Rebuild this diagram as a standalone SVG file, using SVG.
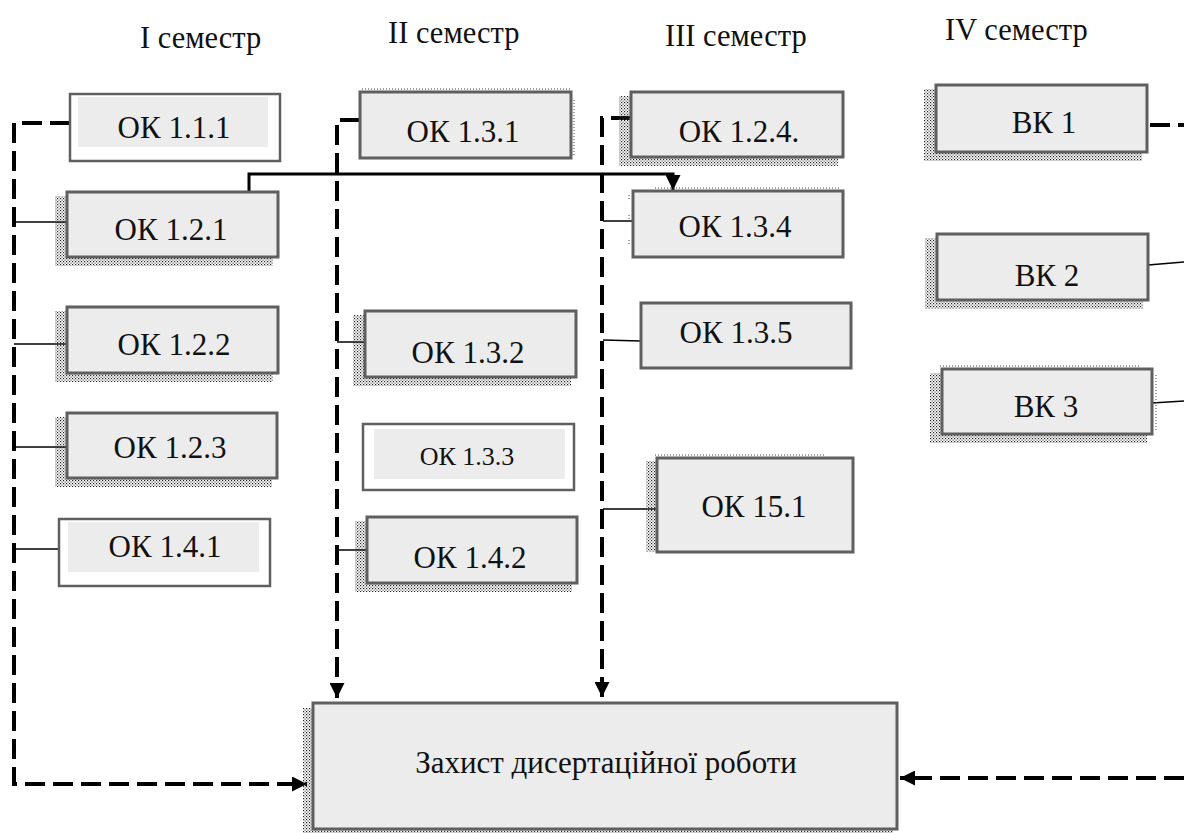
<svg xmlns="http://www.w3.org/2000/svg" width="1184" height="833" viewBox="0 0 1184 833">
<defs>
<pattern id="dots" width="3" height="3" patternUnits="userSpaceOnUse">
<rect x="0" y="0" width="1.2" height="1.2" fill="#222"/>
<rect x="1.5" y="1.5" width="1.2" height="1.2" fill="#555"/>
</pattern>
<marker id="arr" viewBox="0 0 14 14" refX="14" refY="7" markerWidth="15" markerHeight="15" markerUnits="userSpaceOnUse" orient="auto">
<path d="M0,0 L14,7 L0,14 z" fill="#000"/>
</marker>
</defs>
<style>
.box{fill:#ececec;stroke:#5f5f5f;stroke-width:3}
.wbox{fill:#fff;stroke:#5f5f5f;stroke-width:2.5}
.inner{fill:#ececec}
.sh{fill:url(#dots)}
.shl{fill:none;stroke:#444;stroke-width:1;stroke-dasharray:1 2}
.t{font-family:'Liberation Serif','Tinos','DejaVu Serif',serif;font-size:31px;fill:#111;text-anchor:middle}
.ts{font-size:26px}
.h{font-family:'Liberation Serif','Tinos','DejaVu Serif',serif;font-size:30.5px;fill:#111}
.dash{fill:none;stroke:#000;stroke-width:4;stroke-dasharray:20 8}
.thin{fill:none;stroke:#000;stroke-width:1.5}
.thick{fill:none;stroke:#000;stroke-width:3}
</style>

<g id="headers">
<text class="h" x="140" y="48">I семестр</text>
<text class="h" x="388" y="43">II семестр</text>
<text class="h" x="665" y="46">III семестр</text>
<text class="h" x="945" y="40">IV семестр</text>
</g>

<g id="connectors">
<path class="dash" d="M70,123 H14 V784 H307" marker-end="url(#arr)"/>
<path class="dash" d="M360,120 H337 V698" marker-end="url(#arr)"/>
<path class="dash" d="M631,118 H602 V697" marker-end="url(#arr)"/>
<path class="dash" d="M1150,125 H1184"/>
<path class="dash" d="M1184,778 H900" marker-end="url(#arr)"/>
<path class="thick" d="M249,192 V174 H673 V190" marker-end="url(#arr)"/>
<path class="thin" d="M14,222 H67"/>
<path class="thin" d="M14,344 H67"/>
<path class="thin" d="M16,447 H68"/>
<path class="thin" d="M14,549 H66"/>
<path class="thin" d="M337,342 H365"/>
<path class="thin" d="M337,550 H367"/>
<path class="thin" d="M603,221 H633"/>
<path class="thin" d="M603,340 L641,341"/>
<path class="thin" d="M603,509 H657"/>
<path class="thin" d="M1148,265 L1184,262"/>
<path class="thin" d="M1152,403 L1184,401"/>
</g>

<g id="ok111">
<rect class="wbox" x="70" y="94" width="210" height="67"/>
<rect class="inner" x="78" y="97" width="190" height="50"/>
<text class="t" x="174" y="138">ОК 1.1.1</text>
</g>
<g id="ok121">
<rect class="sh" x="55" y="196" width="218" height="70"/>
<rect class="box" x="67" y="192" width="211" height="65"/>
<text class="t" x="171" y="240">ОК 1.2.1</text>
</g>
<g id="ok122">
<rect class="sh" x="55" y="311" width="218" height="71"/>
<rect class="box" x="67" y="307" width="211" height="66"/>
<text class="t" x="174" y="355">ОК 1.2.2</text>
</g>
<g id="ok123">
<rect class="sh" x="55" y="417" width="217" height="70"/>
<rect class="box" x="67" y="413" width="210" height="65"/>
<text class="t" x="170" y="458">ОК 1.2.3</text>
</g>
<g id="ok141">
<rect class="wbox" x="59" y="519" width="211" height="67"/>
<rect class="inner" x="68" y="522" width="191" height="50"/>
<text class="t" x="165" y="557">ОК 1.4.1</text>
</g>

<g id="ok131">
<path class="shl" d="M362,89 H570 M574,100 V156"/>
<rect class="box" x="360" y="92" width="211" height="66"/>
<text class="t" x="463" y="142">ОК 1.3.1</text>
</g>
<g id="ok132">
<rect class="sh" x="353" y="315" width="218" height="71"/>
<rect class="box" x="365" y="311" width="211" height="66"/>
<text class="t" x="468" y="363">ОК 1.3.2</text>
</g>
<g id="ok133">
<rect class="wbox" x="363" y="424" width="211" height="66"/>
<rect class="inner" x="374" y="429" width="191" height="50"/>
<text class="t ts" x="467" y="465">ОК 1.3.3</text>
</g>
<g id="ok142">
<rect class="sh" x="355" y="521" width="217" height="71"/>
<rect class="box" x="367" y="517" width="210" height="66"/>
<text class="t" x="470" y="568">ОК 1.4.2</text>
</g>

<g id="ok124">
<rect class="sh" x="619" y="96" width="219" height="70"/>
<rect class="box" x="631" y="92" width="212" height="65"/>
<text class="t" x="739" y="142">ОК 1.2.4.</text>
</g>
<g id="ok134">
<path class="shl" d="M655,188 H840 M629,195 V200 M629,215 V222 M629,240 V246"/>
<rect class="box" x="633" y="191" width="210" height="66"/>
<text class="t" x="735" y="237">ОК 1.3.4</text>
</g>
<g id="ok135">
<rect class="box" x="641" y="303" width="210" height="65"/>
<text class="t" x="736" y="343">ОК 1.3.5</text>
</g>
<g id="ok151">
<rect class="sh" x="646" y="461" width="14" height="91"/>
<path class="shl" d="M655,455 H826"/>
<rect class="box" x="657" y="458" width="196" height="94"/>
<text class="t" x="754" y="517">ОК 15.1</text>
</g>

<g id="vk1">
<rect class="sh" x="924" y="89" width="218" height="72"/>
<rect class="box" x="936" y="85" width="211" height="67"/>
<text class="t" x="1044" y="133">ВК 1</text>
</g>
<g id="vk2">
<rect class="sh" x="925" y="238" width="218" height="71"/>
<rect class="box" x="937" y="234" width="211" height="66"/>
<text class="t" x="1047" y="286">ВК 2</text>
</g>
<g id="vk3">
<rect class="sh" x="930" y="373" width="217" height="70"/>
<path class="shl" d="M940,366 H1140 M1156,375 V432"/>
<rect class="box" x="942" y="369" width="210" height="65"/>
<text class="t" x="1046" y="417">ВК 3</text>
</g>

<g id="defense">
<rect class="sh" x="303" y="708" width="590" height="125"/>
<rect class="box" x="313" y="703" width="584" height="126"/>
<text class="t" x="606" y="773">Захист дисертаційної роботи</text>
</g>
</svg>
